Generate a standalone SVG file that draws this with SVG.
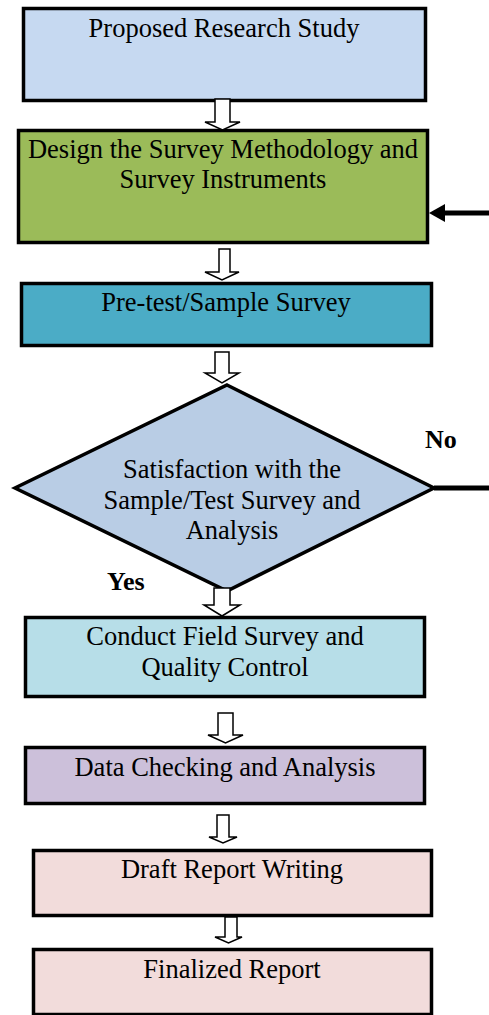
<svg xmlns="http://www.w3.org/2000/svg" width="489" height="1015" viewBox="0 0 489 1015">
<style>
.box{stroke:#000;stroke-width:3.5}
.t{font-family:"Liberation Serif","Times New Roman",serif;font-size:26.5px;fill:#000;text-anchor:middle}
.b{font-family:"Liberation Serif","Times New Roman",serif;font-size:26px;font-weight:bold;fill:#000}
.arr{fill:#fff;stroke:#000;stroke-width:1.5;stroke-linejoin:miter}
</style>
<rect width="489" height="1015" fill="#fff"/>
<g id="n1"><rect class="box" x="23.5" y="8.5" width="402" height="92" fill="#c6d9f1"/><text class="t" x="224" y="37">Proposed Research Study</text></g>
<g id="n2"><rect class="box" x="18.5" y="130.5" width="409" height="112" fill="#9bbb59"/><text class="t" x="223" y="158">Design the Survey Methodology and</text><text class="t" x="223" y="188">Survey Instruments</text></g>
<g id="n3"><rect class="box" x="21.5" y="283.5" width="410" height="62" fill="#4bacc6"/><text class="t" x="226" y="311">Pre-test/Sample Survey</text></g>
<g id="n4"><polygon class="box" points="227,385 434,488 227,591 15,488" fill="#b9cde5"/><text class="t" x="232" y="478">Satisfaction with the</text><text class="t" x="232" y="509">Sample/Test Survey and</text><text class="t" x="232" y="539">Analysis</text></g>
<g id="n5"><rect class="box" x="25.5" y="617.5" width="399" height="79" fill="#b7dee8"/><text class="t" x="225" y="645">Conduct Field Survey and</text><text class="t" x="225" y="676">Quality Control</text></g>
<g id="n6"><rect class="box" x="25.5" y="747.5" width="399" height="56" fill="#ccc0da"/><text class="t" x="225" y="776">Data Checking and Analysis</text></g>
<g id="n7"><rect class="box" x="33.5" y="850.5" width="398" height="65" fill="#f2dcdb"/><text class="t" x="232" y="878">Draft Report Writing</text></g>
<g id="n8"><rect class="box" x="33.5" y="949.5" width="398" height="65" fill="#f2dcdb"/><text class="t" x="232" y="978">Finalized Report</text></g>
<g id="connectors">
<path class="arr" d="M215,99 H230 V122 H240 L222.5,130 L205,122 H215 Z"/>
<path class="arr" d="M219,249 H230 V272 H239 L222,280 L205,272 H219 Z"/>
<path class="arr" d="M215,352 H229 V373 H239 L222,383 L205,373 H215 Z"/>
<path class="arr" d="M214,588 H230 V605 H240 L222,616 L204,605 H214 Z"/>
<path class="arr" d="M218,713 H233 V735 H243 L225.5,743 L208,735 H218 Z"/>
<path class="arr" d="M217,815 H229 V837 H237 L223,843 L209,837 H217 Z"/>
<path class="arr" d="M225,917 H237 V937 H242 L228.5,943 L215,937 H225 Z"/>
<line x1="489" y1="213" x2="440" y2="213" stroke="#000" stroke-width="5"/>
<polygon points="429,213 445,204 445,222" fill="#000"/>
<line x1="434" y1="488" x2="489" y2="488" stroke="#000" stroke-width="5"/>
<text class="b" x="425" y="448">No</text>
<text class="b" x="107" y="590">Yes</text>
</g>
</svg>
